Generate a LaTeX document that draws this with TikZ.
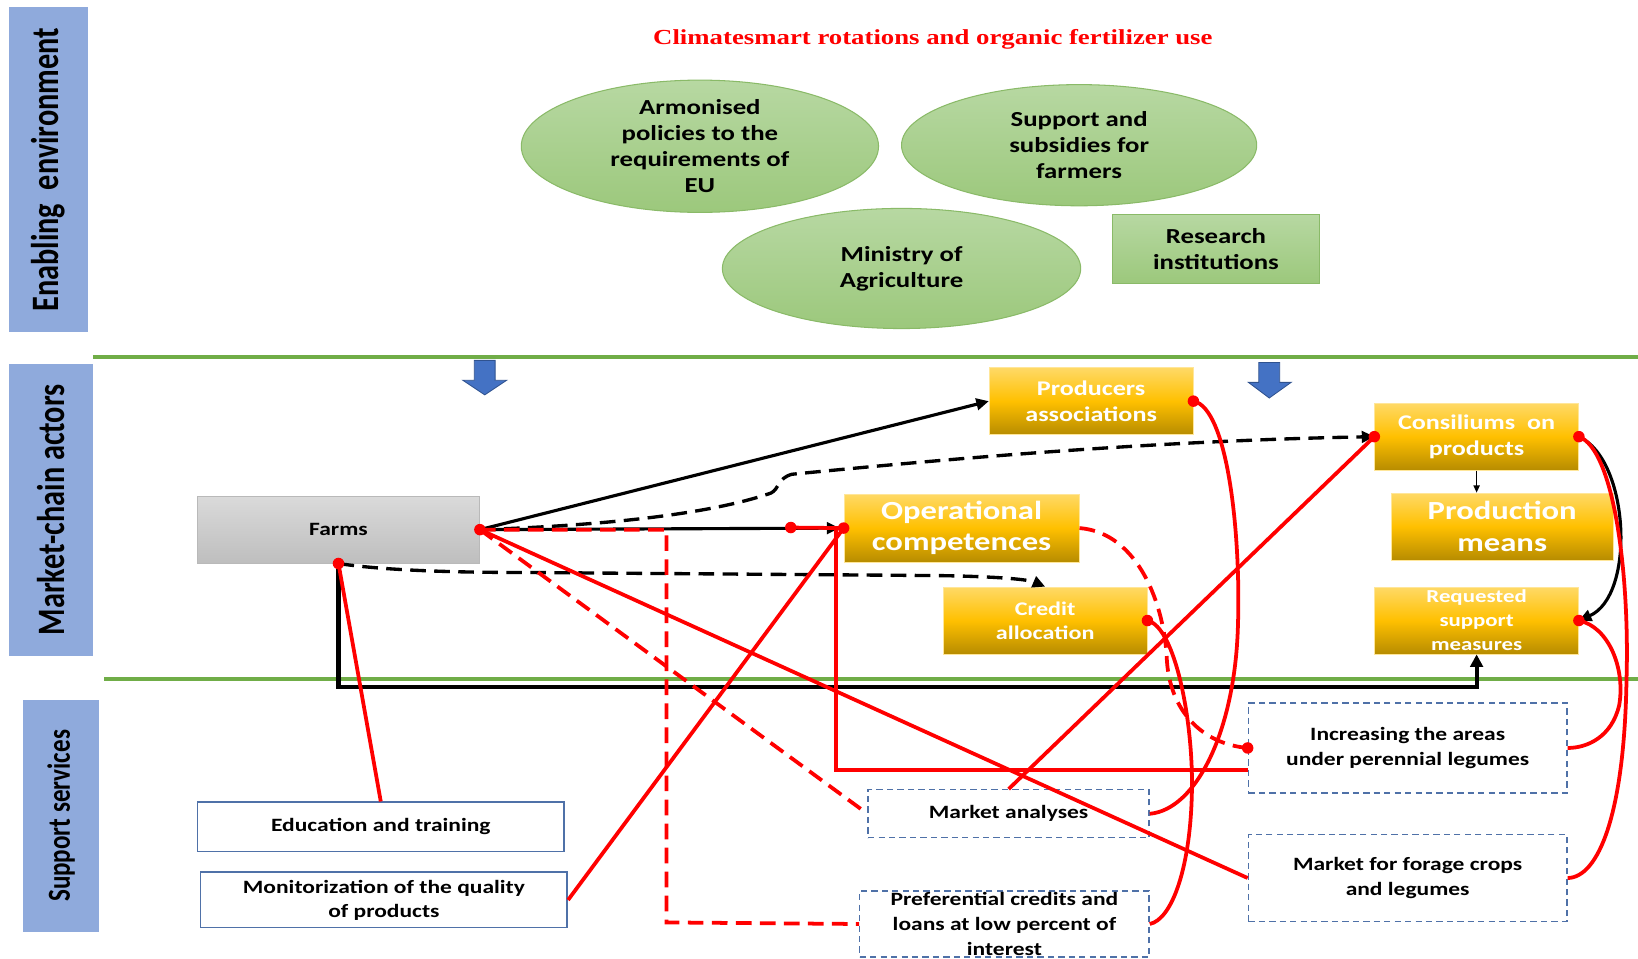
\documentclass[tikz,border=0pt]{standalone}
\usepackage{fontspec}
\usepackage{graphicx}
\setmainfont{Carlito}[FakeStretch=1.25]
\newfontfamily\bandfont{Carlito}
\newfontfamily\titlefont{Liberation Serif}[FakeStretch=1.25]
\usetikzlibrary{arrows.meta,shapes.geometric,calc}

\definecolor{bandblue}{RGB}{143,170,220}
\definecolor{rulegreen}{RGB}{112,173,71}
\definecolor{elltop}{RGB}{183,216,162}
\definecolor{ellbot}{RGB}{156,200,124}
\definecolor{ellline}{RGB}{138,186,104}
\definecolor{goldtop}{RGB}{255,217,102}
\definecolor{goldmid}{RGB}{255,192,0}
\definecolor{goldbot}{RGB}{183,140,0}
\definecolor{goldline}{RGB}{255,230,153}
\definecolor{farmtop}{RGB}{218,218,218}
\definecolor{farmbot}{RGB}{190,190,190}
\definecolor{farmline}{RGB}{185,185,185}
\definecolor{boxblue}{RGB}{79,113,168}
\definecolor{arrowblue}{RGB}{68,114,196}
\definecolor{arrowedge}{RGB}{47,82,143}
\definecolor{linkred}{RGB}{255,0,0}

\begin{document}
\begin{tikzpicture}[x=1pt,y=-1pt,
  band/.style={fill=bandblue,draw=none,rotate=90,inner sep=0pt,align=center,
    font=\bandfont\bfseries\fontsize{29}{34}\selectfont},
  greenrule/.style={rulegreen,line width=4pt},
  ell/.style={ellipse,draw=ellline,line width=1pt,top color=elltop,bottom color=ellbot,
    inner sep=0pt,align=center,font=\bfseries\fontsize{20.5}{25}\selectfont},
  greenbox/.style={rectangle,draw=ellline,line width=1pt,top color=elltop,bottom color=ellbot,
    inner sep=0pt,align=center,font=\bfseries\fontsize{20.5}{25}\selectfont},
  goldbox/.style={rectangle,draw=goldline,line width=0.8pt,top color=goldtop,bottom color=goldbot,
    middle color=goldmid,inner sep=0pt,align=center,text=white,
    font=\bfseries\fontsize{20}{25}\selectfont},
  farmbox/.style={rectangle,draw=farmline,line width=0.8pt,top color=farmtop,bottom color=farmbot,
    inner sep=0pt,align=center,font=\bfseries\fontsize{18}{22}\selectfont},
  solidbox/.style={rectangle,draw=boxblue,line width=1.6pt,fill=white,inner sep=0pt,align=center,
    font=\bfseries\fontsize{18}{23}\selectfont},
  dashbox/.style={rectangle,draw=boxblue,line width=1.3pt,dash pattern=on 6pt off 4pt,
    inner sep=0pt,align=center,font=\bfseries\fontsize{18}{23.5}\selectfont},
  downarrow/.style={fill=arrowblue,draw=arrowedge,line width=0.8pt},
  blk/.style={black,line width=3pt},
  blkdash/.style={black,line width=3.2pt,dash pattern=on 15pt off 8pt},
  tip/.style={-{Triangle[length=12pt,width=11pt]}},
  redline/.style={linkred,line width=3.6pt},
  reddash/.style={linkred,line width=3.6pt,dash pattern=on 15pt off 8pt},
  reddot/.style={fill=linkred}
]
\useasboundingbox (0,0) rectangle (1568,918);

% side bands
\node[band,minimum width=311,minimum height=75] (envband) at (46.5,162.5)
  {\scalebox{1}[1.28]{Enabling\ \ environment}};
\node[band,minimum width=280,minimum height=80] (actband) at (49,488)
  {\scalebox{1}[1.28]{Market-chain actors}};
\node[band,minimum width=222,minimum height=73,font=\bandfont\bfseries\fontsize{24}{28}\selectfont]
  (supband) at (58.5,781) {\scalebox{1}[1.28]{Support services}};

% horizontal separators
\draw[greenrule] (89,342) -- (1568,342);
\draw[greenrule] (100,650) -- (1568,650);

% title
\node[text=linkred,font=\titlefont\bfseries\fontsize{20.5}{24}\selectfont] (title) at (893,38)
  {Climatesmart rotations and organic fertilizer use};

% enabling environment
\node[ell,minimum width=342,minimum height=114] (arm) at (670,140)
  {Armonised\\policies to the\\requirements of\\EU};
\node[ell,minimum width=340,minimum height=116] (sub) at (1033,139)
  {Support and\\subsidies for\\farmers};
\node[ell,minimum width=343,minimum height=115] (min) at (863,257)
  {Ministry of\\Agriculture};
\node[greenbox,minimum width=198,minimum height=66] (res) at (1164,238)
  {Research\\institutions};

% block arrows from the enabling environment
\draw[downarrow] (454,345) -- (474,345) -- (474,364) -- (485,364) -- (464,378)
  -- (443,364) -- (454,364) -- cycle;
\draw[downarrow] (1205,347) -- (1225,347) -- (1225,366) -- (1236,366) -- (1215,381)
  -- (1195,366) -- (1205,366) -- cycle;

% market-chain actors
\node[farmbox,minimum width=270,minimum height=64] (farms) at (324,507) {Farms};
\node[goldbox,minimum width=195,minimum height=64] (prod) at (1044.5,384)
  {Producers\\associations};
\node[goldbox,minimum width=195,minimum height=64] (cons) at (1413.5,418)
  {Consiliums\ \ on\\products};
\node[goldbox,minimum width=225,minimum height=65,font=\bfseries\fontsize{25}{30}\selectfont]
  (oper) at (920.5,505.5) {Operational\\competences};
\node[goldbox,minimum width=212,minimum height=64,font=\bfseries\fontsize{25}{30}\selectfont]
  (prodm) at (1438,504) {Production\\means};
\node[goldbox,minimum width=195,minimum height=64,font=\bfseries\fontsize{18.5}{23}\selectfont]
  (credit) at (1000.5,594) {Credit\\allocation};
\node[goldbox,minimum width=195,minimum height=64,font=\bfseries\fontsize{17.5}{23}\selectfont]
  (req) at (1413.5,594) {Requested\\support\\measures};

% support services
\node[solidbox,minimum width=351,minimum height=47] (edu) at (364.5,791.5)
  {Education and training};
\node[solidbox,minimum width=351,minimum height=53] (mon) at (367.5,861.5)
  {Monitorization of the quality\\of products};
\node[dashbox,minimum width=269,minimum height=46] (mkt) at (965.5,779)
  {Market analyses};
\node[dashbox,minimum width=277,minimum height=63] (pref) at (961.5,884.5)
  {Preferential credits and\\loans at low percent of\\interest};
\node[dashbox,minimum width=305,minimum height=86] (incr) at (1347.5,716)
  {Increasing the areas\\under perennial legumes};
\node[dashbox,minimum width=305,minimum height=83] (forage) at (1347.5,840.5)
  {Market for forage crops\\and legumes};

% helper points
\coordinate (bus) at (0,658);
\coordinate (rdot) at (757,505);
\coordinate (rcorner) at (800,737);
\coordinate (dcorner) at (638,883);

% black links
\draw[blk,tip] (farms.east) -- (prod.west);
\draw[blk,tip,shorten >=4pt] (farms.east) -- (oper.west);
\draw[blkdash,tip] (farms.east) .. controls (580,503) and (680,492) .. (738,472)
  .. controls (746,468) and (744,458) .. (758,454)
  .. controls (900,440) and (1100,422) .. (cons.west);
\draw[blkdash,tip] (farms.south) .. controls (360,545) and (420,548) .. (500,548)
  -- (900,551) .. controls (960,552) and (985,555) .. (credit.north);
\draw[black,line width=4pt,-{Triangle[length=12pt,width=12pt]}]
  (farms.south) -- (farms.south |- bus) -- (req.south |- bus) -- (req.south);
\draw[black,line width=1.4pt,-{Triangle[length=7pt,width=6pt]}] (cons.south) -- (cons.south |- prodm.north);
\draw[blk,tip] (cons.east) .. controls (1560,440) and (1566,570) .. (req.east);

% red links
\draw[redline] (farms.south) -- (edu.north);
\draw[redline] (mon.east) -- (oper.west);
\draw[redline] (rdot) -- (oper.west);
\draw[redline] (rcorner |- oper.west) -- (rcorner) -- (rcorner -| incr.west);
\draw[reddash] (farms.east) -- (dcorner |- farms.east) -- (dcorner) -- (pref.west);
\draw[reddash] (farms.east) -- (mkt.west);
\draw[redline] (farms.east) -- (forage.west);
\draw[redline] (mkt.north) -- (cons.west);
\draw[redline] (prod.east) .. controls (1175,390) and (1188,510) .. (1185,600)
  .. controls (1182,700) and (1145,775) .. (mkt.east);
\draw[redline] (credit.east) .. controls (1125,600) and (1142,690) .. (1141,755)
  .. controls (1140,830) and (1122,880) .. (pref.east);
\draw[reddash] (oper.east) .. controls (1090,510) and (1115,580) .. (1117,632)
  .. controls (1120,680) and (1150,712) .. (incr.west);
\draw[redline] (cons.east) .. controls (1545,430) and (1560,550) .. (1557,650)
  .. controls (1555,780) and (1530,840) .. (forage.east);
\draw[redline] (req.east) .. controls (1540,600) and (1556,640) .. (1550,675)
  .. controls (1543,705) and (1520,716) .. (incr.east);

% connection dots
\foreach \p in {farms.east,farms.south,rdot,oper.west,prod.east,cons.west,cons.east,
  credit.east,req.east,incr.west}
  \fill[reddot] (\p) circle (5.5);
\end{tikzpicture}
\end{document}
